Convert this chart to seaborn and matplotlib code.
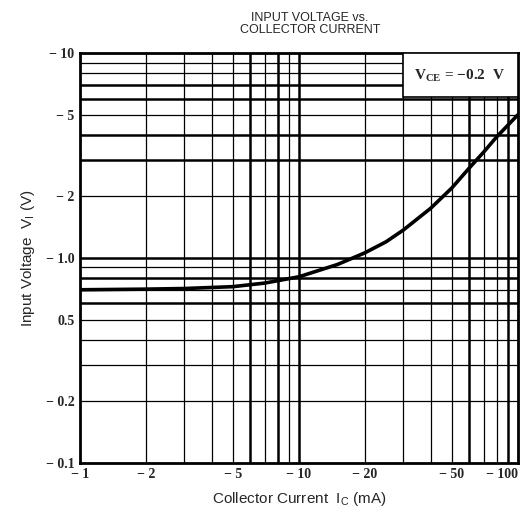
import matplotlib
matplotlib.use("Agg")
import matplotlib.pyplot as plt
import seaborn as sns
import pandas as pd

# curve (|Ic| in mA, |Vi| in V)
current_ma = [1, 2, 3, 5, 7, 10, 15, 20, 25, 30, 40, 50, 60, 70, 80, 100]
input_v = [0.70, 0.705, 0.71, 0.725, 0.755, 0.81, 0.93, 1.06, 1.2, 1.37, 1.75, 2.2, 2.75, 3.3, 3.9, 5.0]

x_ticks = [1, 2, 5, 10, 20, 50, 100]
x_labels = ["\u2212 1", "\u2212 2", "\u2212 5", "\u2212 10", "\u2212 20", "\u2212 50", "\u2212 100"]
y_ticks = [0.1, 0.2, 0.5, 1.0, 2, 5, 10]
y_labels = ["\u2212 0.1", "\u2212 0.2", "0.5", "\u2212 1.0", "\u2212 2", "\u2212 5", "\u2212 10"]

x_grid = [2, 3, 4, 5, 6, 7, 8, 9, 10, 20, 30, 40, 50, 60, 70, 80, 90]
y_grid = [0.2, 0.3, 0.4, 0.5, 0.6, 0.7, 0.8, 0.9, 1, 2, 3, 4, 5, 6, 7, 8, 9]
x_heavy = [6, 8, 10, 60, 90]
y_heavy = [0.6, 0.8, 1, 3, 4, 6, 7]

df = pd.DataFrame({"Ic": current_ma, "Vi": input_v})

sns.set_style("white")
fig = plt.figure(figsize=(5.23, 5.12), dpi=100)
ax = fig.add_axes([0.153, 0.096, 0.837, 0.8])

for g in x_grid:
    ax.axvline(g, color="black", lw=1.8 if g in x_heavy else 0.9, zorder=1)
for g in y_grid:
    ax.axhline(g, color="black", lw=1.8 if g in y_heavy else 0.9, zorder=1)

sns.lineplot(data=df, x="Ic", y="Vi", color="black", lw=2.6, ax=ax, zorder=3)

ax.set_xscale("log")
ax.set_yscale("log")
ax.set_xlim(1, 100)
ax.set_ylim(0.1, 10)
ax.minorticks_off()
ax.set_xticks(x_ticks)
ax.set_xticklabels(x_labels, fontfamily="Liberation Serif", fontweight="bold", fontsize=10)
ax.set_yticks(y_ticks)
ax.set_yticklabels(y_labels, fontfamily="Liberation Serif", fontweight="bold", fontsize=10)
ax.tick_params(length=0, pad=4)
ax.get_xticklabels()[-1].set_horizontalalignment("right")

for s in ax.spines.values():
    s.set_color("black")
    s.set_linewidth(2)

ax.set_xlabel("Collector Current  I$_\\mathregular{C}$ (mA)", fontsize=11,
              fontfamily="Liberation Sans", labelpad=6)
ax.set_ylabel("Input Voltage  V$_\\mathregular{I}$ (V)", fontsize=11,
              fontfamily="Liberation Sans", labelpad=6)

# condition box in the upper right corner
ax.add_patch(plt.Rectangle((0.737, 0.893), 0.263, 0.107, transform=ax.transAxes,
                           facecolor="white", edgecolor="black", lw=1.2, zorder=4))
ax.text(0.868, 0.946, "V$_\\mathregular{CE}$ = \u22120.2  V", transform=ax.transAxes,
        ha="center", va="center", fontsize=11, fontfamily="Liberation Serif",
        fontweight="bold", zorder=5)

fig.text(0.593, 0.953, "INPUT VOLTAGE vs.\nCOLLECTOR CURRENT", ha="center", va="center",
         fontsize=9, fontfamily="Liberation Sans", linespacing=1.0)

plt.savefig("out.png", dpi=100)
